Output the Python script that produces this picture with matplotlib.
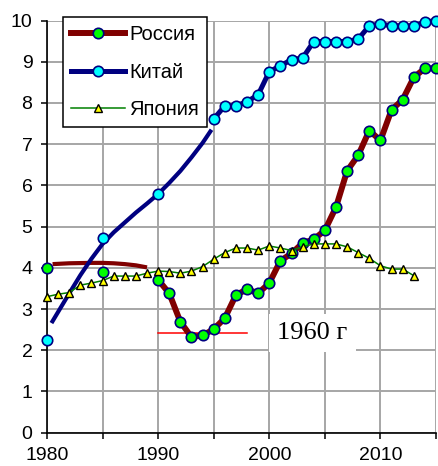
import matplotlib
matplotlib.use("Agg")
import matplotlib.pyplot as plt
import numpy as np

# ---- data ----
years_main = list(range(1990, 2016))
russia_early_years = [1980, 1985]
russia_early = [3.99, 3.89]
russia = [3.71, 3.38, 2.69, 2.32, 2.36, 2.51, 2.78, 3.34, 3.48, 3.38, 3.63,
          4.17, 4.35, 4.60, 4.69, 4.91, 5.47, 6.35, 6.73, 7.33, 7.09, 7.83,
          8.08, 8.62, 8.84, 8.84]
russia_trend_years = [1980.5, 1982, 1984, 1985, 1986, 1987, 1988, 1989]
russia_trend = [4.09, 4.11, 4.12, 4.12, 4.11, 4.09, 4.06, 4.01]

china_early_years = [1980, 1985, 1990]
china_early = [2.24, 4.73, 5.79]
china_years = list(range(1995, 2016))
china = [7.61, 7.93, 7.93, 8.03, 8.20, 8.76, 8.90, 9.05, 9.09, 9.49, 9.49,
         9.49, 9.49, 9.55, 9.87, 9.92, 9.87, 9.87, 9.87, 9.96, 10.0]
china_trend_years = [1980.4, 1981, 1982, 1983, 1984, 1985, 1986, 1987, 1988,
                     1989, 1990, 1991, 1992, 1993, 1994, 1994.8]
china_trend = [2.66, 2.93, 3.38, 3.82, 4.22, 4.58, 4.86, 5.10, 5.34, 5.56,
               5.79, 6.06, 6.35, 6.68, 7.03, 7.35]

japan_years = list(range(1980, 2014))
japan = [3.30, 3.36, 3.40, 3.58, 3.63, 3.69, 3.80, 3.80, 3.80, 3.87, 3.92,
         3.91, 3.87, 3.92, 4.03, 4.21, 4.37, 4.48, 4.48, 4.43, 4.53, 4.48,
         4.42, 4.51, 4.58, 4.58, 4.58, 4.51, 4.37, 4.23, 4.05, 3.97, 3.97,
         3.81]

ref_years = [1990, 1998]
ref_level = [2.41, 2.41]

labels = ["Россия", "Китай", "Япония"]
note = "1960 г"

# ---- figure ----
fig = plt.figure(figsize=(4.38, 4.66), dpi=100)
ax = fig.add_axes([47 / 438, 1 - 432.7 / 466, 389 / 438, 412.2 / 466])
ax.set_xlim(1980, 2015)
ax.set_ylim(0, 10)
ax.set_axisbelow(True)

navy = "#000080"
dred = "#800000"

ax.plot(ref_years, ref_level, color="#ff0000", lw=1.1, zorder=2)

ax.plot(russia_trend_years, russia_trend, color=dred, lw=3.0, zorder=3,
        solid_capstyle="butt")
ax.plot(russia_early_years, russia_early, ls="none", marker="o", ms=7.5,
        mfc="#00ff00", mec=navy, mew=1.2, zorder=4, clip_on=False)
l_ru, = ax.plot(years_main, russia, color=dred, lw=4.3, marker="o", ms=7.5,
                mfc="#00ff00", mec=navy, mew=1.2, zorder=4, clip_on=False)

ax.plot(china_trend_years, china_trend, color=navy, lw=3.0, zorder=5,
        solid_capstyle="butt")
ax.plot(china_early_years, china_early, ls="none", marker="o", ms=7.5,
        mfc="#00ffff", mec=navy, mew=1.2, zorder=6, clip_on=False)
l_cn, = ax.plot(china_years, china, color=navy, lw=3.6, marker="o", ms=7.5,
                mfc="#00ffff", mec=navy, mew=1.2, zorder=6, clip_on=False)

l_jp, = ax.plot(japan_years, japan, color="#008000", lw=1.1, marker="^",
                ms=6, mfc="#ffff00", mec="black", mew=1.0, zorder=7,
                clip_on=False)

# grid & axes
ax.set_xticks(range(1980, 2016, 10))
ax.set_xticks(range(1985, 2016, 10), minor=True)
ax.set_yticks(range(0, 11))
ax.grid(True, which="both", color="#a6a6a6", lw=1.4)
for s in ["top", "right"]:
    ax.spines[s].set_visible(False)
for s in ["left", "bottom"]:
    ax.spines[s].set_color("black")
    ax.spines[s].set_linewidth(1.2)
ax.tick_params(axis="both", which="both", direction="out", length=4.5,
               width=1.1, color="black", labelsize=14, pad=6)
for lab in ax.get_xticklabels() + ax.get_yticklabels():
    lab.set_family("Liberation Sans")

ax.text(2003.85, 2.42, note, fontsize=19, family="Liberation Serif",
        ha="center", va="center", zorder=8,
        bbox=dict(facecolor="white", edgecolor="none", pad=6))

leg = ax.legend([l_ru, l_cn, l_jp], labels, loc="upper left",
                bbox_to_anchor=(0.041, 1.0085), borderaxespad=0,
                numpoints=1, handlelength=2.7, handletextpad=0.2,
                labelspacing=0.92, borderpad=0.4, fancybox=False,
                framealpha=1, edgecolor="black",
                prop={"family": "Liberation Sans", "size": 14.5})
leg.get_frame().set_linewidth(1.1)
leg.set_zorder(10)

fig.savefig("out.png", dpi=100)
